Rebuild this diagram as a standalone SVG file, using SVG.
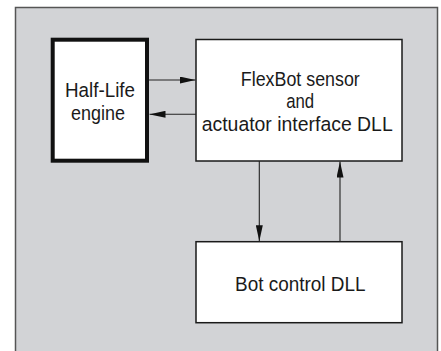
<svg xmlns="http://www.w3.org/2000/svg" width="441" height="351" viewBox="0 0 441 351">
<defs>
<style>
.lbl{font-family:"Liberation Sans",Arial,sans-serif;font-size:20.5px;fill:#1a1a1a;text-anchor:middle}
.box{fill:#ffffff;stroke:#1a1a1a;stroke-width:1.5}
.conn{stroke:#222;stroke-width:1.1;fill:none}
</style>
<marker id="ah" markerUnits="userSpaceOnUse" markerWidth="16" markerHeight="7" refX="16" refY="3.5" orient="auto">
<path d="M0,0 L16,3.5 L0,7 Z" fill="#111"/>
</marker>
</defs>
<rect x="0" y="0" width="441" height="351" fill="#ffffff"/>
<rect id="panel" x="15.5" y="7.5" width="422" height="350" fill="#d2d3d6" stroke="#555" stroke-width="1.5"/>
<g id="halflife">
<rect x="52.7" y="39.7" width="94.3" height="121" fill="#fff" stroke="#111" stroke-width="4"/>
<text class="lbl" x="100" y="97" textLength="70" lengthAdjust="spacingAndGlyphs">Half-Life</text>
<text class="lbl" x="98" y="120" textLength="54" lengthAdjust="spacingAndGlyphs">engine</text>
</g>
<g id="flexbot">
<rect class="box" x="196" y="39.5" width="206" height="121.5"/>
<text class="lbl" x="300.3" y="86" textLength="119" lengthAdjust="spacingAndGlyphs">FlexBot sensor</text>
<text class="lbl" x="300.2" y="108.3" textLength="28" lengthAdjust="spacingAndGlyphs">and</text>
<text class="lbl" x="297.2" y="130.5" textLength="191" lengthAdjust="spacingAndGlyphs">actuator interface DLL</text>
</g>
<g id="botcontrol">
<rect class="box" x="196" y="241.7" width="206" height="81"/>
<text class="lbl" x="300.3" y="291" textLength="130.5" lengthAdjust="spacingAndGlyphs">Bot control DLL</text>
</g>
<g id="connectors">
<line class="conn" x1="149" y1="80" x2="195.5" y2="80" marker-end="url(#ah)"/>
<line class="conn" x1="196" y1="114.3" x2="149.5" y2="114.3" marker-end="url(#ah)"/>
<line class="conn" x1="259.3" y1="161" x2="259.3" y2="241.2" marker-end="url(#ah)"/>
<line class="conn" x1="340" y1="241.7" x2="340" y2="161.5" marker-end="url(#ah)"/>
</g>
</svg>
